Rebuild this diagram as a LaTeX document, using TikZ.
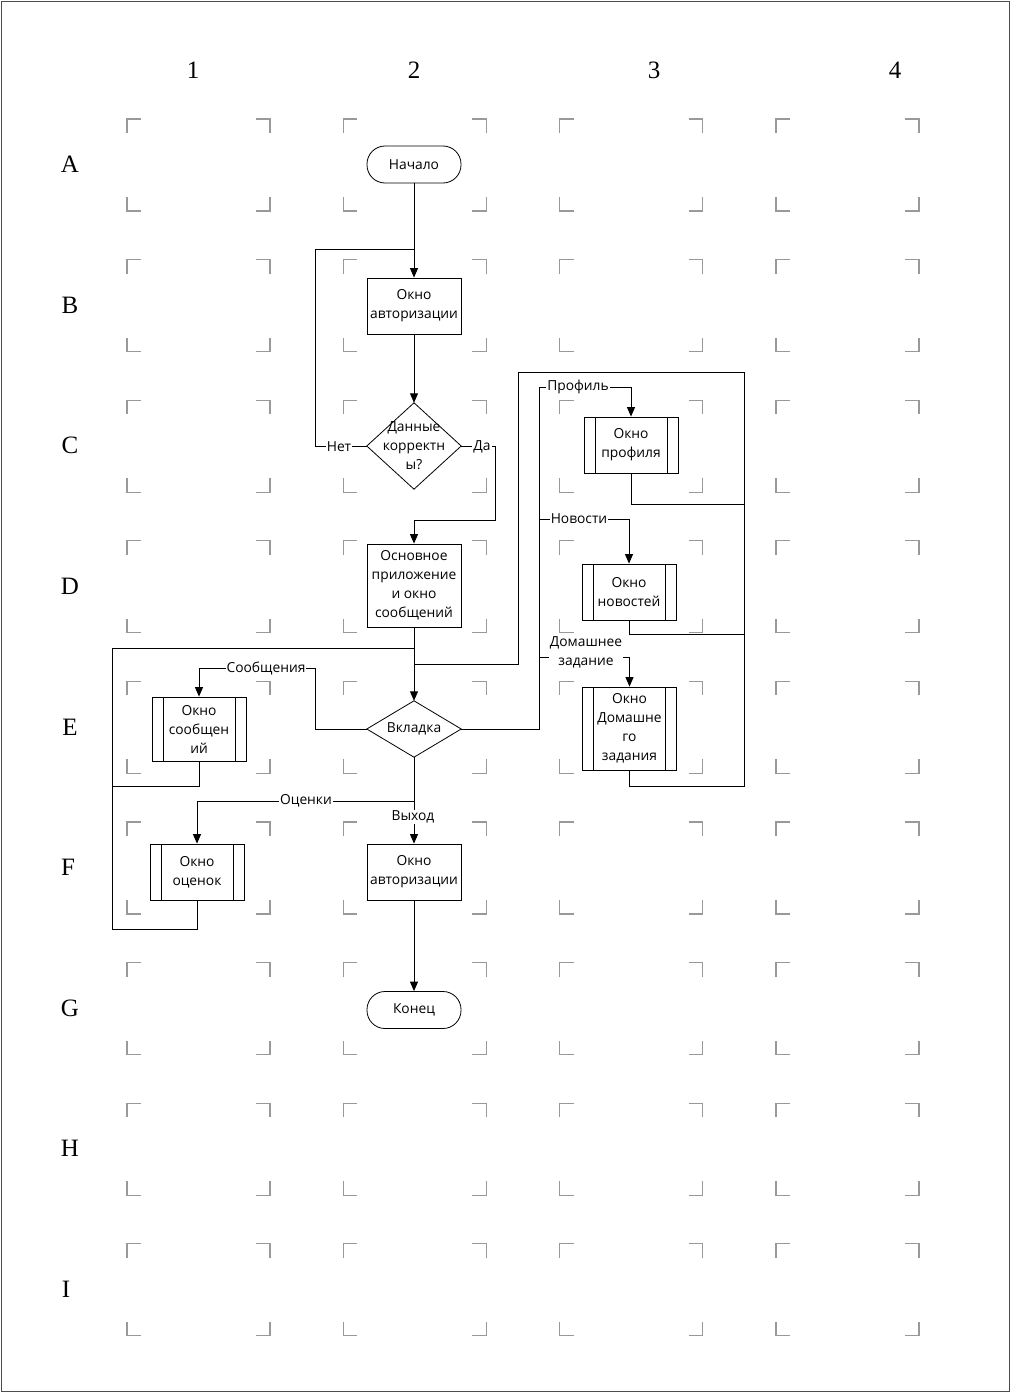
\documentclass[tikz,border=0pt]{standalone}
\usepackage{fontspec}
\setmainfont{Liberation Serif}
\newfontfamily\uifont{Open Sans}
\usetikzlibrary{arrows.meta}
\begin{document}
\begin{tikzpicture}[x=1pt,y=-1pt,
  wire/.style={draw=black, line width=0.95pt},
  flow/.style={wire, -{Triangle[length=9.5pt,width=8pt]}},
  txt/.style={font=\uifont\fontsize{13.8}{19}\selectfont, align=center, text=black},
  box/.style={txt, draw, line width=0.8pt, minimum width=94pt, inner sep=0pt},
  term/.style={box, minimum height=37pt, rounded corners=18pt},
  subproc/.style={box, path picture={
      \draw[line width=0.8pt] ([xshift=11pt]path picture bounding box.north west) -- ([xshift=11pt]path picture bounding box.south west);
      \draw[line width=0.8pt] ([xshift=-11pt]path picture bounding box.north east) -- ([xshift=-11pt]path picture bounding box.south east);}},
  decision/.style={txt, minimum width=94pt, inner sep=0pt},
  lbl/.style={txt, fill=white, inner sep=1pt},
  cellmark/.style={draw=black!40, line width=1.2pt},
  axis/.style={font=\fontsize{25}{25}\selectfont}
]
\useasboundingbox (0,0) rectangle (1011,1394);
\draw[line width=0.8pt, black!70] (1,1) rectangle (1009,1391);

% sheet grid: column and row headings
\foreach \c/\x in {1/193, 2/414, 3/654, 4/895}
  \node[axis] (col\c) at (\x,70) {\c};
\foreach \r/\x/\y in {A/70/164, B/70/305, C/70/445, D/70/586, E/70/727, F/68/867, G/70/1008, H/70/1148, I/66/1289}
  \node[axis] (row\r) at (\x,\y) {\r};

% corner marks of every cell
\foreach \i in {0,...,8} {
  \foreach \j in {0,...,3} {
    \pgfmathsetmacro{\xl}{127+216.3*\j}
    \pgfmathsetmacro{\xr}{\xl+143}
    \pgfmathsetmacro{\yt}{119+140.6*\i}
    \pgfmathsetmacro{\yb}{\yt+92}
    \draw[cellmark] (\xl+14,\yt) -- (\xl,\yt) -- (\xl,\yt+14);
    \draw[cellmark] (\xr-14,\yt) -- (\xr,\yt) -- (\xr,\yt+14);
    \draw[cellmark] (\xl+14,\yb) -- (\xl,\yb) -- (\xl,\yb-14);
    \draw[cellmark] (\xr-14,\yb) -- (\xr,\yb) -- (\xr,\yb-14);
  }
}

% main column
\node[term] (start) at (414,164.5) {Начало};
\node[box, minimum height=56pt] (auth1) at (414,306) {Окно\\авторизации};
\node[decision, minimum height=86pt] (check) at (414,446) {Данные\\корректн\\ы?};
\draw[line width=0.8pt] (check.north) -- (check.east) -- (check.south) -- (check.west) -- cycle;
\node[box, minimum height=83pt] (app) at (414,585.5) {Основное\\приложение\\и окно\\сообщений};
\node[decision, minimum height=56pt] (tab) at (414,729) {Вкладка};
\draw[line width=0.8pt] (tab.north) -- (tab.east) -- (tab.south) -- (tab.west) -- cycle;
\node[box, minimum height=56pt] (auth2) at (414,872) {Окно\\авторизации};
\node[term] (finish) at (414,1010) {Конец};

% side windows
\node[subproc, minimum height=64pt] (msg) at (199,729) {Окно\\сообщен\\ий};
\node[subproc, minimum height=56pt] (grade) at (197,872) {Окно\\оценок};
\node[subproc, minimum height=56pt] (prof) at (631,445) {Окно\\профиля};
\node[subproc, minimum height=56pt] (news) at (629,592) {Окно\\новостей};
\node[subproc, minimum height=83pt] (hw) at (629.5,728.5) {Окно\\Домашне\\го\\задания};

% junction points
\coordinate (jTop) at (414,249);
\coordinate (jL) at (414,648);
\coordinate (jR) at (414,664);
\coordinate (jG) at (414,801);
\coordinate (busR) at (539,387);

% start and login check
\draw[flow] (start) -- (auth1);
\draw[flow] (auth1) -- (check.north);
\draw[wire] (check.west) -- ++(-51,0) |- (jTop);
\node[lbl] (no) at (339,447) {Нет};
\draw[flow] (check.east) -- ++(34,0) -- ++(0,74) -| (app.north);
\node[lbl] (yes) at (482,447) {Да};
\draw[flow] (app) -- (tab.north);

% tab choices on the right
\draw[flow] (tab.east) -| (busR) -| (prof.north);
\node[lbl] (lprof) at (578,387) {Профиль};
\draw[flow] (539,519) -| (news.north);
\node[lbl] (lnews) at (579,519) {Новости};
\draw[flow] (539,657) -| (hw.north);
\node[lbl] (lhw) at (586,652) {Домашнее\\задание};

% returns from the right windows
\draw[wire] (prof.south) |- (744,504);
\draw[wire] (news.south) |- (744,634);
\draw[wire] (hw.south) |- (744,786) |- (518,372) |- (jR);

% tab choices on the left
\draw[flow] (tab.west) -| (315,668) -| (msg.north);
\node[lbl] (lmsg) at (266,668) {Сообщения};
\draw[wire] (tab.south) -- (jG);
\draw[flow] (jG) -| (grade.north);
\node[lbl] (lgrade) at (306,801) {Оценки};
\draw[flow] (jG) -- (auth2.north);
\node[lbl] (lexit) at (413,817) {Выход};

% returns from the left windows
\draw[wire] (msg.south) |- (112,786);
\draw[wire] (grade.south) |- (112,929) |- (jL);

% exit
\draw[flow] (auth2) -- (finish);
\end{tikzpicture}
\end{document}
